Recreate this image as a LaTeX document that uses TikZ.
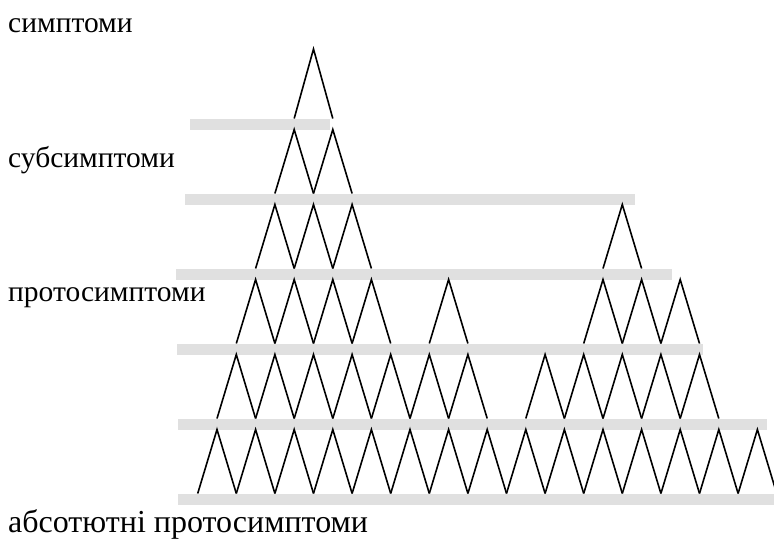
\documentclass[tikz,border=0pt]{standalone}
\usepackage{fontspec}
\setmainfont{Liberation Serif}
\usepackage{tikz}

\begin{document}
\begin{tikzpicture}[x=1pt, y=-1pt,
  bar/.style={fill=gray!24, draw=none},
  zig/.style={line width=1.6pt, line join=miter},
  lbl/.style={anchor=base west, inner sep=0pt, font=\fontsize{29.5}{35}\selectfont}
]
\useasboundingbox (0,0) rectangle (774,539);

\begin{scope}
\clip (0,0) rectangle (774,539);

%% ---- grey levels ----
\foreach \xa/\xb/\yc in {190/330/124, 185/635/199, 176/672/274,
                         177/703/349, 178/767/424, 178/780/499}
  \fill[bar] (\xa,\yc-5.5) rectangle (\xb,\yc+5.5);

%% ---- triangles, one row between two levels ----
\foreach \ytop/\ybase/\hs in {49/118.5/{5}, 129.5/193.5/{4,6},
    204.5/268.5/{3,5,7,21}, 279.5/343.5/{2,4,6,8,12,20,22,24},
    354.5/418.5/{1,3,...,13,17,19,...,25}, 429.5/493.5/{0,2,...,28}}
  \foreach \h in \hs
    \draw[zig] ({217+19.3*(\h-1)},\ybase) -- ({217+19.3*\h},\ytop)
               -- ({217+19.3*(\h+1)},\ybase);
\end{scope}

%% ---- labels ----
\node[lbl] (symp)      at (8,32)  {симптоми};
\node[lbl] (subsymp)   at (8,167) {субсимптоми};
\node[lbl] (protosymp) at (8,301) {протосимптоми};
\node[lbl, font=\fontsize{32}{38}\selectfont] (abssymp) at (8,532)
  {абсотютні протосимптоми};
\end{tikzpicture}
\end{document}
